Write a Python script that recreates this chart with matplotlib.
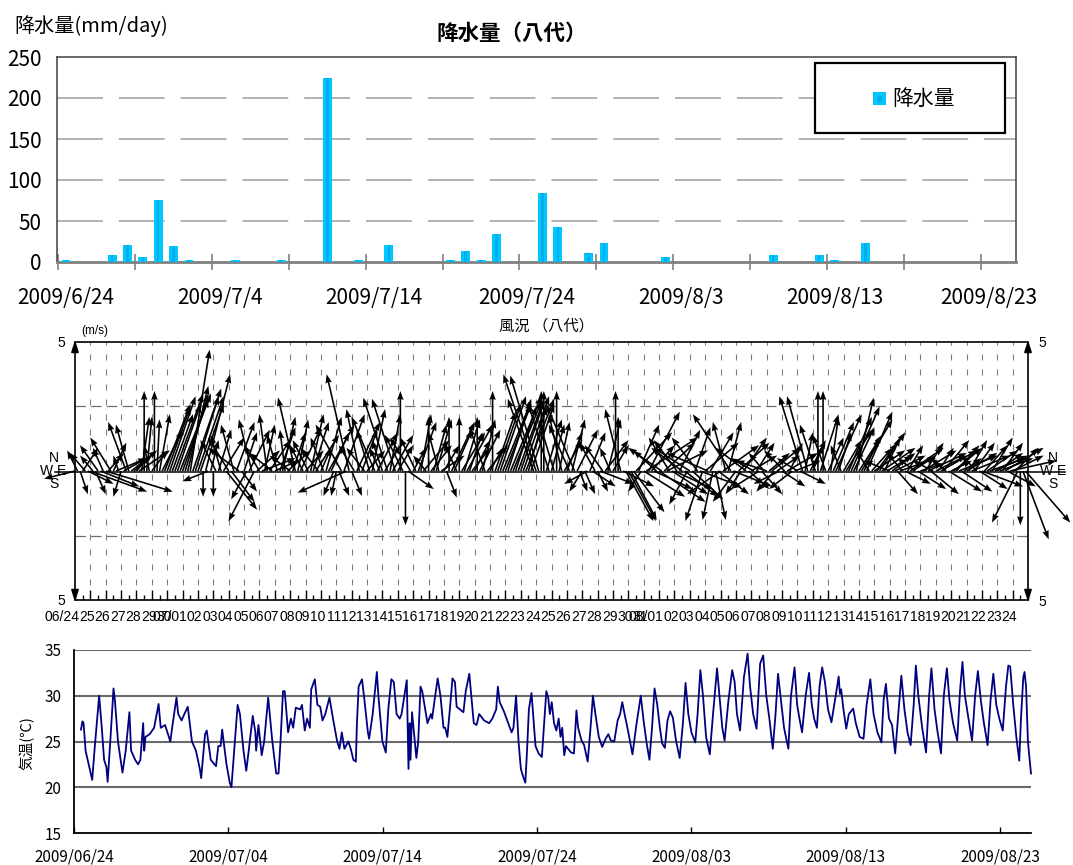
import numpy as np
import pandas as pd
import matplotlib
matplotlib.use("Agg")
import matplotlib.pyplot as plt
from matplotlib.patches import Rectangle
from matplotlib.lines import Line2D

plt.rcParams['font.family'] = ['Noto Sans CJK JP', 'DejaVu Sans']
plt.rcParams['lines.scale_dashes'] = False

# ---------------------------------------------------------------- data
# daily precipitation, day index counted from 2009/6/24
rain_days = [0, 3, 4, 5, 6, 7, 8, 11, 14, 17, 19, 21, 25, 26, 27, 28,
             31, 32, 34, 35, 39, 46, 49, 50, 52]
rain_mm = [3, 8, 21, 6, 76, 19, 3, 3, 3, 225, 3, 21, 3, 13, 3, 34,
           84, 43, 11, 23, 6, 8, 8, 3, 23]
rain_ticks = [0, 10, 20, 30, 40, 50, 60]
rain_ticklabels = ['2009/6/24', '2009/7/4', '2009/7/14', '2009/7/24',
                   '2009/8/3', '2009/8/13', '2009/8/23']

# wind, six samples per day (00,04,08,12,16,20 h); u = east, v = north (m/s)
wind_hours = [0, 4, 8, 12, 16, 20]
wind_u = [
    [-1.2, -0.4, 0.3, 0.6, -0.6, 1.0],
    [2.2, -0.5, 0.4, -0.7, 1.5, -0.4],
    [2.6, 0.6, -0.8, 0.5, 1.2, -0.2],
    [-0.3, 0.9, -0.7, -0.5, 1.0, 0.7],
    [0.5, 1.2, 0.3, 0.0, 0.2, -0.2],
    [0.6, 0.0, 0.1, 0.4, 0.8, 1.0],
    [0.9, 1.0, 0.8, 1.1, 0.9, 1.2],
    [1.0, 0.9, 0.8, 0.75, 1.1, 0.9],
    [1.0, 0.9, 0.0, 0.95, -1.0, 0.3],
    [0.0, -0.6, 0.5, -0.4, 0.8, 1.2],
    [-0.8, 0.9, -0.5, 0.7, -1.2, 0.6],
    [0.5, -0.6, 0.8, -0.5, -1.0, 0.9],
    [-0.6, 1.3, 0.4, -0.3, 0.8, -0.9],
    [0.9, -0.4, 0.6, 0.5, -0.2, 0.9],
    [-0.8, 0.5, -0.67, 0.4, 0.8, -0.5],
    [0.7, -0.6, 0.5, 0.6, 0.9, -0.7],
    [0.4, -0.5, 0.6, 1.0, 0.7, -0.4],
    [-0.2, 0.4, -1.0, 0.8, -1.9, -0.87],
    [0.4, -0.6, 0.9, -0.5, 0.6, -0.7],
    [0.7, -0.5, 0.5, -0.9, 0.8, -0.4],
    [-0.4, 0.6, -0.94, 0.4, 0.8, -0.9],
    [0.6, 0.0, -0.7, 0.0, 1.0, -0.8],
    [0.5, -0.6, 0.7, 0.4, 1.0, -0.5],
    [0.0, 0.8, 0.5, 0.6, -0.4, 0.9],
    [0.6, 0.4, 0.0, 0.9, 0.7, -0.5],
    [0.0, 0.9, 0.6, 1.0, 0.5, 0.7],
    [0.6, 0.0, 0.8, 0.5, -0.6, 0.8],
    [0.5, 0.0, 0.8, 0.9, 1.0, 1.1],
    [1.0, 0.9, 1.2, 1.1, 0.8, 1.0],
    [0.9, 1.0, 1.1, 0.7, 0.9, -1.0],
    [-1.27, -1.1, 0.0, 0.0, 0.6, -0.8],
    [0.5, -0.6, 0.0, 0.4, -0.5, 0.7],
    [0.6, -0.8, 0.5, -1.1, 0.8, 0.3],
    [-0.5, 0.4, -0.9, 0.6, 0.9, -0.6],
    [0.4, 1.3, -0.7, 0.9, 0.5, -0.4],
    [0.6, 0.0, 0.0, -0.6, 1.2, 1.07],
    [1.07, 1.0, 1.2, 1.4, 0.8, -0.5],
    [1.6, 2.0, 1.2, 0.9, 1.5, -0.9],
    [1.8, -1.3, 1.2, 1.6, -0.8, 1.4],
    [1.5, -0.9, 0.8, -1.2, 1.3, -0.7],
    [-1.4, 1.2, 0.6, -1.0, 1.6, -0.67],
    [1.3, -1.6, 0.9, -0.4, 0.4, 1.2],
    [-1.3, 1.4, -0.5, 0.5, -1.47, 1.5],
    [-0.9, 1.2, -0.6, 0.9, -1.2, 0.8],
    [1.0, -0.9, 0.7, -1.1, 0.8, -0.6],
    [-1.2, 0.8, 1.1, -0.7, 0.9, -1.0],
    [0.9, -0.8, 1.2, 0.5, -0.9, 1.0],
    [-0.8, 1.0, -0.9, 0.3, -0.8, 0.6],
    [0.4, -0.6, 0.0, 0.7, 0.0, -0.5],
    [0.6, 0.3, 0.8, 1.0, 0.5, -0.4],
    [0.7, 1.0, 0.9, 1.1, 0.8, 0.67],
    [0.9, 1.2, 0.6, 1.0, -0.5, 0.8],
    [1.2, 0.8, 1.0, 1.3, 0.6, 1.0],
    [-1.0, 0.9, 1.2, 0.8, 1.4, -0.6],
    [1.0, 0.6, 1.3, 0.9, -0.7, 1.1],
    [0.9, 1.3, 0.7, 1.5, 1.1, -0.8],
    [1.2, 0.6, 1.4, 1.0, -0.6, 1.3],
    [0.8, 1.1, 0.9, 1.5, 1.2, 0.7],
    [1.2, 0.7, 1.5, 0.8, -0.6, 1.1],
    [1.6, 0.9, 1.2, 1.4, 0.8, 1.3],
    [1.0, 1.3, 0.8, 1.5, 1.1, 1.8],
    [1.2, 0.9, -1.0, 0.0, 1.0, 1.74],
]
wind_v = [
    [-0.3, 0.8, -0.9, 0.9, 0.7, -0.5],
    [-0.8, 0.6, -0.9, 1.0, -0.6, 0.9],
    [-0.8, 0.7, 1.3, 1.1, 0.5, 0.6],
    [-1.0, 0.5, 1.9, 1.8, 0.8, 0.6],
    [0.6, 0.8, 2.1, 3.1, 2.1, 1.0],
    [0.8, 3.1, 2.0, 2.2, 1.6, 2.6],
    [2.5, 2.9, 2.2, 3.0, 2.6, 3.0],
    [2.8, 3.0, 3.3, 4.7, 3.2, 2.9],
    [2.9, 2.6, -1.0, 3.75, -0.4, 1.2],
    [-1.0, 1.2, 1.6, 1.4, 1.3, -1.5],
    [1.3, -1.2, 1.8, 1.9, 0.9, -0.8],
    [1.5, -1.1, 1.6, 2.0, -1.95, 0.8],
    [1.0, 0.5, 1.8, 2.2, 1.2, 0.7],
    [0.4, 1.4, 1.7, 2.1, 1.6, 0.8],
    [0.6, 1.5, 2.85, 2.0, 1.7, 1.0],
    [0.8, 1.2, 2.2, 1.9, 1.4, 0.9],
    [0.9, 1.3, 2.1, 1.8, 1.5, -0.97],
    [-0.97, -0.97, 1.8, 2.2, -0.84, 3.75],
    [-0.97, 1.0, 1.9, 2.4, 1.6, 0.9],
    [0.8, 1.6, 2.4, 2.1, 1.5, 0.9],
    [1.2, 1.0, 2.84, 2.2, 1.4, 2.8],
    [1.0, 3.1, 1.4, -2.1, -0.7, 1.3],
    [0.9, 1.3, 1.9, 2.2, 1.2, 0.6],
    [2.1, 1.0, 1.8, 2.0, 1.5, 0.6],
    [1.0, -1.03, 2.1, 1.9, 1.6, 1.1],
    [2.1, 1.5, 2.0, 1.8, 1.5, 0.9],
    [1.2, 2.1, 1.6, 2.0, 1.7, 1.0],
    [0.9, 3.1, 2.3, 2.6, 2.9, 2.7],
    [2.6, 2.8, 2.9, 2.7, 2.5, 2.8],
    [2.7, 2.9, 2.8, 2.5, 2.6, 2.8],
    [3.75, 3.7, 3.1, 3.1, 2.0, 2.6],
    [1.8, 2.0, 3.1, 1.9, 2.2, 1.2],
    [1.5, 1.8, 2.0, 2.6, 1.6, -0.8],
    [-0.8, -0.9, -0.5, 1.5, -0.6, 1.1],
    [-0.8, -0.5, 1.0, 1.2, 2.0, 0.9],
    [1.0, 3.1, 2.1, 2.4, -0.6, -1.94],
    [-1.94, -1.9, -1.6, 1.5, 1.8, -0.8],
    [-1.0, 1.3, 2.3, 1.0, -0.7, 0.8],
    [-1.2, 0.9, 1.1, 0.8, 1.3, -0.9],
    [-0.7, 1.2, 1.6, 0.9, -1.0, -1.3],
    [0.9, -1.1, 1.7, 1.3, -0.6, -1.94],
    [1.1, 0.7, 1.5, -1.9, -1.9, -0.9],
    [-0.9, 1.0, 1.9, 1.9, 2.2, -0.6],
    [-1.2, 1.1, -0.9, 1.3, 0.9, -0.7],
    [0.6, 0.5, 1.1, -0.7, -0.9, 0.7],
    [0.4, 0.7, 0.9, -0.8, 0.6, -0.5],
    [-0.6, 0.8, 0.7, 1.1, -0.7, 0.4],
    [0.5, -0.5, 2.9, 1.5, 2.9, 1.2],
    [1.0, 1.8, 3.1, 2.2, 3.1, 1.4],
    [1.3, 2.1, 1.9, 2.2, 1.5, 1.0],
    [1.2, 1.6, 2.1, 2.5, 1.7, 2.84],
    [1.4, 2.0, 1.3, 2.3, 0.8, 0.9],
    [0.8, 1.1, 1.5, 0.9, 1.3, 0.6],
    [0.4, 0.7, 0.6, -0.9, 0.5, 0.7],
    [-0.5, 1.0, 0.9, 0.6, 0.5, -0.7],
    [0.3, 0.8, 1.1, 0.7, -0.9, 0.4],
    [0.6, 0.9, 0.8, 1.2, 0.5, -0.8],
    [0.4, 0.9, 1.0, 0.6, -0.8, 0.5],
    [0.7, 1.2, 0.6, 1.1, 0.6, -0.7],
    [-0.6, 1.0, 0.8, 0.5, 1.3, 0.6],
    [0.7, 0.5, 1.1, 0.9, -0.6, 0.4],
    [0.6, 0.9, -2.0, -2.1, -2.65, -2.0],
]

# air temperature: time (days from 2009/6/24 00:00) and value (deg C)
temp_day = [
    0.45, 0.55, 0.62, 0.75, 0.95,
    1.18, 1.35, 1.5, 1.63, 1.8, 1.95,
    2.1, 2.18, 2.35, 2.56, 2.65, 2.85,
    3.14, 3.35, 3.59, 3.7, 3.96,
    4.15, 4.3, 4.48, 4.55, 4.63, 4.9,
    5.19, 5.48, 5.62, 5.9,
    6.24, 6.4, 6.64, 6.75, 6.97,
    7.15, 7.37, 7.64, 7.9,
    8.15, 8.24, 8.49, 8.6, 8.86,
    9.2, 9.35, 9.5, 9.6, 9.87,
    10.09, 10.2, 10.6, 10.75, 10.98,
    11.16, 11.32, 11.58, 11.75, 11.8, 11.95,
    12.16, 12.32, 12.58, 12.85,
    13.1, 13.25, 13.38, 13.54, 13.65, 13.87,
    14.05, 14.2, 14.37, 14.65, 14.77, 14.95,
    15.1, 15.28, 15.37, 15.6, 15.77, 15.95,
    16.1, 16.28, 16.55, 16.8,
    17.05, 17.2, 17.35, 17.52, 17.77, 17.93,
    18.1, 18.26, 18.33, 18.44, 18.66, 18.85,
    19.04, 19.12, 19.35, 19.62, 19.72, 19.98,
    20.2, 20.36, 20.56, 20.72, 20.9,
    21.1, 21.22, 21.56, 21.67, 21.75, 21.8, 21.9,
    22.18, 22.3, 22.45, 22.56, 22.8, 22.9,
    23.12, 23.2, 23.4, 23.56, 23.74, 23.94,
    24.05, 24.19, 24.35, 24.52, 24.68, 24.79,
    25.01, 25.23, 25.38, 25.61, 25.9,
    26.08, 26.25, 26.57, 26.9,
    27.1, 27.35, 27.46, 27.58, 27.85,
    28.13, 28.35, 28.47, 28.64, 28.8, 28.95,
    29.13, 29.24, 29.35, 29.47, 29.64, 29.9,
    30.1, 30.31, 30.6, 30.72, 30.83, 30.95,
    31.1, 31.25, 31.4, 31.52, 31.63, 31.76, 31.87,
    32.2, 32.39, 32.55, 32.66, 32.88,
    33.05, 33.28, 33.45, 33.62, 33.78,
    34.0, 34.22, 34.44, 34.62, 34.78,
    35.0, 35.22, 35.38, 35.52, 35.67, 35.89,
    36.18, 36.45, 36.72, 36.9,
    37.1, 37.28, 37.45, 37.61, 37.78, 37.95,
    38.1, 38.28, 38.45, 38.62, 38.8,
    39.0, 39.24, 39.45, 39.62, 39.8,
    40.0, 40.25, 40.4, 40.58, 40.75, 40.95,
    41.19, 41.4, 41.66, 41.82,
    42.0, 42.15, 42.4, 42.64, 42.8, 42.95,
    43.15, 43.4, 43.64, 43.8,
    44.0, 44.22, 44.45, 44.65, 44.85,
    45.05, 45.27, 45.45, 45.61, 45.8,
    46.0, 46.28, 46.45, 46.68, 46.85,
    47.0, 47.17, 47.4, 47.62, 47.8, 47.95,
    48.13, 48.3, 48.47, 48.65, 48.85,
    49.07, 49.3, 49.54, 49.62, 49.7, 49.85,
    50.03, 50.2, 50.48, 50.65, 50.9,
    51.15, 51.35, 51.59, 51.8,
    52.05, 52.31, 52.45, 52.6, 52.8,
    53.0, 53.2, 53.4, 53.6, 53.8,
    54.0, 54.2, 54.4, 54.54, 54.7, 54.95,
    55.2, 55.4, 55.55, 55.75, 55.95,
    56.17, 56.35, 56.55, 56.72, 56.95,
    57.22, 57.4, 57.56, 57.72, 57.95,
    58.18, 58.38, 58.56, 58.75, 58.95,
    59.19, 59.38, 59.56, 59.75, 59.95,
    60.17, 60.38, 60.53, 60.65, 60.85,
    61.05, 61.24, 61.35, 61.5, 61.58, 61.68, 61.8, 62.0,
]
temp_c = [
    26.3, 27.2, 27.0, 24.0, 22.5,
    20.8, 24.5, 27.5, 30.0, 26.5, 23.0,
    22.2, 20.6, 25.0, 30.8, 29.5, 25.0,
    21.6, 24.0, 28.2, 24.0, 23.0,
    22.5, 23.0, 27.0, 24.0, 25.5, 25.8,
    26.5, 29.1, 26.5, 26.8,
    25.0, 27.0, 29.8, 28.0, 27.3,
    28.0, 28.8, 25.0, 24.0,
    22.0, 21.0, 25.8, 26.2, 23.0,
    22.3, 24.5, 24.5, 26.3, 22.6,
    20.5, 20.0, 29.0, 28.0, 24.0,
    21.8, 24.0, 27.8, 26.0, 24.0, 26.8,
    23.5, 25.0, 29.8, 25.0,
    21.5, 21.5, 25.0, 30.5, 30.5, 26.0,
    27.5, 26.5, 28.7, 28.5, 29.0, 26.2,
    27.5, 26.5, 30.7, 31.8, 29.0, 28.8,
    27.3, 28.0, 29.8, 27.3,
    25.0, 24.2, 26.0, 24.2, 25.0, 24.2,
    23.0, 22.8, 27.0, 31.0, 31.8, 29.0,
    26.0, 25.3, 28.0, 32.6, 30.0, 25.0,
    23.8, 28.5, 31.8, 31.5, 28.0,
    27.5, 28.0, 31.7, 22.0, 27.0, 23.0, 28.2,
    23.2, 25.0, 31.0, 30.5, 28.0, 27.0,
    28.0, 27.5, 30.0, 31.9, 30.0, 26.5,
    26.5, 25.5, 28.5, 31.9, 31.5, 28.8,
    28.5, 28.2, 30.5, 32.4, 27.0,
    26.8, 28.0, 27.3, 27.0,
    27.5, 28.5, 31.0, 29.3, 28.3,
    27.0, 26.0, 26.5, 30.0, 25.0, 22.0,
    21.0, 20.5, 24.0, 28.5, 30.3, 24.5,
    23.7, 23.3, 30.5, 29.8, 28.0, 29.3,
    27.0, 26.2, 27.5, 25.5, 26.5, 23.5, 24.5,
    23.8, 23.7, 28.4, 26.5, 25.1,
    24.6, 22.8, 26.2, 30.0, 28.0,
    25.5, 24.4, 25.3, 25.8, 25.1,
    25.0, 27.3, 28.0, 29.3, 28.0, 26.2,
    23.6, 27.0, 30.0, 27.3,
    24.8, 23.0, 26.5, 30.8, 29.1, 26.6,
    24.8, 24.3, 27.3, 28.3, 27.6,
    25.1, 23.2, 27.0, 31.4, 28.0,
    26.0, 24.9, 28.0, 32.8, 30.0, 25.5,
    23.6, 28.0, 33.0, 30.0,
    26.5, 25.1, 29.5, 32.8, 31.5, 28.0,
    26.2, 32.0, 34.6, 31.0,
    28.0, 26.4, 33.5, 34.4, 30.0,
    27.5, 24.2, 28.0, 32.4, 29.5,
    26.5, 24.2, 30.0, 33.1, 29.0,
    27.5, 26.0, 30.0, 32.5, 29.0, 27.5,
    26.5, 31.0, 33.1, 31.5, 28.5,
    27.1, 29.5, 32.1, 30.2, 30.7, 28.5,
    26.4, 28.0, 28.6, 27.0, 25.5,
    25.3, 29.0, 31.8, 28.0,
    26.0, 24.9, 29.5, 31.3, 27.5,
    26.8, 23.7, 28.0, 32.2, 28.5,
    26.0, 24.6, 29.0, 33.3, 30.0, 26.5,
    23.8, 30.0, 33.0, 28.5, 26.0,
    23.7, 30.0, 33.0, 29.5, 27.0,
    25.1, 30.5, 33.7, 30.0, 27.5,
    25.1, 30.0, 32.7, 29.5, 27.0,
    24.6, 29.5, 32.4, 29.0, 27.5,
    26.2, 31.0, 33.3, 33.2, 29.0,
    25.5, 22.9, 27.5, 32.0, 32.6, 31.0, 25.0, 21.5,
]
temp_ticks = [0, 10, 20, 30, 40, 50, 60]
temp_ticklabels = ['2009/06/24', '2009/07/04', '2009/07/14', '2009/07/24',
                   '2009/08/03', '2009/08/13', '2009/08/23']

# ---------------------------------------------------------------- figure
W, H = 1073, 865
fig = plt.figure(figsize=(W / 100, H / 100), dpi=100)


def px_box(l, t, r, b):
    return [l / W, 1 - b / H, (r - l) / W, (b - t) / H]


def ftext(x, y, s, **kw):
    return fig.text(x / W, 1 - y / H, s, **kw)


def fline(xs, ys, **kw):
    fig.add_artist(Line2D([x / W for x in xs], [1 - y / H for y in ys],
                          transform=fig.transFigure, **kw))


def frect(x0, y0, x1, y1, **kw):
    fig.add_artist(Rectangle((x0 / W, 1 - y1 / H), (x1 - x0) / W, (y1 - y0) / H,
                             transform=fig.transFigure, **kw))


# ======================= precipitation ===============================
ax1 = fig.add_axes(px_box(57, 57, 1016, 262))
ax1.bar(rain_days, rain_mm, width=0.58, color='#00C8FF', zorder=3)
ax1.bar(rain_days, rain_mm, width=0.16, color='#00AEEF', zorder=4)
ax1.set_xlim(-0.585, 61.8)
ax1.set_ylim(0, 250)
for y in (50, 100, 150, 200):
    ax1.axhline(y, color='#A6A6A6', lw=1.2, dashes=(33, 11.5), zorder=1)
ax1.set_yticks(range(0, 251, 50))
ax1.tick_params(axis='y', length=0, pad=11, labelsize=15)
ax1.set_xticks(rain_ticks)
ax1.set_xticklabels(rain_ticklabels)
ax1.set_xticks([-0.5 + 5 * k for k in range(13)], minor=True)
ax1.tick_params(axis='x', which='major', length=0, pad=18, labelsize=15)
ax1.tick_params(axis='x', which='minor', direction='inout', length=12,
                width=1.2, color='#808080')
for s in ('top', 'right', 'left'):
    ax1.spines[s].set_color('#404040')
    ax1.spines[s].set_linewidth(1.1)
ax1.spines['bottom'].set_color('#808080')
ax1.spines['bottom'].set_linewidth(2.0)

ftext(512, 33, '降水量（八代）', fontsize=15.5, fontweight='bold',
      ha='center', va='center')
ftext(14, 26, '降水量(mm/day)', fontsize=14.5, ha='left', va='center')

# legend box
frect(815, 63, 1005, 133, facecolor='white', edgecolor='black', lw=1.6, zorder=10)
frect(873, 92, 886, 105, facecolor='#00C8FF', edgecolor='none', zorder=11)
frect(877, 95.5, 882, 101.5, facecolor='#00AEEF', edgecolor='none', zorder=12)
ftext(892, 99, '降水量', fontsize=15, ha='left', va='center', zorder=12)

# ======================= wind ========================================
ax2 = fig.add_axes(px_box(75, 342, 1028, 600))
ndays = len(wind_u)
ax2.set_xlim(0, ndays)
ax2.set_ylim(-5, 5)

px_per_day = (1028 - 75) / ndays
px_per_ms = (600 - 342) / 10.0
k = px_per_ms / px_per_day          # days of time axis per m/s of east wind

t = np.array([[d + h / 24.0 for h in wind_hours] for d in range(ndays)]).ravel()
u = np.array(wind_u, dtype=float).ravel()
v = np.array(wind_v, dtype=float).ravel()
q = ax2.quiver(t, np.zeros_like(t), u * k, v, angles='xy', scale_units='xy',
               scale=1, width=0.0017, headwidth=4.0, headlength=5.5,
               headaxislength=5.0, color='black', zorder=5)
q.set_clip_on(False)

for d in range(1, ndays):
    ax2.axvline(d, color='#808080', lw=0.8, dashes=(4.3, 6.5), zorder=1)
for y in (2.5, -2.5):
    ax2.axhline(y, color='#707070', lw=0.9, dashes=(7.5, 3.8), zorder=1)

ax2.set_xticks(range(0, ndays + 1))
ax2.set_xticks([d + 0.5 for d in range(ndays)], minor=True)
ax2.tick_params(axis='x', which='major', direction='in', length=7, width=1,
                labelbottom=False)
ax2.tick_params(axis='x', which='minor', direction='in', length=3.5, width=1)
ax2.set_yticks([])
for s in ('left', 'right'):
    ax2.spines[s].set_visible(False)
for s in ('top', 'bottom'):
    ax2.spines[s].set_linewidth(1.2)

# day labels under the wind axis
dates = pd.date_range('2009-06-24', periods=ndays)
for d, dt in enumerate(dates):
    lab = dt.strftime('%m/%d') if (d == 0 or dt.day == 1) else dt.strftime('%d')
    ftext(75 + d * px_per_day + 4.5, 617, lab, fontsize=10, ha='right',
          va='center', family='Liberation Sans')

# vertical scale axes with double arrows
for xa in (0, 1):
    ax2.annotate('', xy=(xa, 1.008), xytext=(xa, -0.008), xycoords='axes fraction',
                 arrowprops=dict(arrowstyle='<|-|>,head_length=0.7,head_width=0.22',
                                 color='black', lw=1.2, shrinkA=0, shrinkB=0),
                 annotation_clip=False)

# zero line with compass marks at both ends
fline([55, 1065], [471.5, 471.5], color='black', lw=1.1, zorder=4)
for cx in (54, 1053):
    ftext(cx, 458, 'N', fontsize=10, ha='center', va='center', family='Liberation Sans')
    ftext(cx - 7, 471, 'W', fontsize=10, ha='center', va='center', family='Liberation Sans')
    ftext(cx + 8, 471, 'E', fontsize=10, ha='center', va='center', family='Liberation Sans')
    ftext(cx, 484, 'S', fontsize=10, ha='center', va='center', family='Liberation Sans')

for x, y in ((61, 343), (61, 601), (1042, 343), (1042, 602)):
    ftext(x, y, '5', fontsize=10, ha='center', va='center', family='Liberation Sans')
ftext(81, 331, '(m/s)', fontsize=8.5, ha='left', va='center', family='Liberation Sans')
ftext(546, 326, '風況 （八代）', fontsize=11, ha='center', va='center')

# ======================= temperature =================================
ax3 = fig.add_axes(px_box(74, 650, 1031, 833))
ax3.set_xlim(0, 62)
ax3.set_ylim(15, 35)
for y in (20, 25, 30, 35):
    ax3.axhline(y, color='#6A6A6A', lw=1.5, zorder=1)
ax3.plot(temp_day, temp_c, color='#000080', lw=1.3, zorder=3, clip_on=False)
ax3.set_yticks(range(15, 36, 5))
ax3.tick_params(axis='y', length=0, pad=9, labelsize=11)
ax3.set_xticks(temp_ticks)
ax3.set_xticklabels(temp_ticklabels)
ax3.tick_params(axis='x', direction='in', length=4, width=1, pad=11, labelsize=11)
ax3.spines['top'].set_visible(False)
ax3.spines['right'].set_visible(False)
ax3.spines['left'].set_linewidth(1.3)
ax3.spines['bottom'].set_linewidth(1.3)
ftext(27, 743, '気温(℃)', fontsize=10.5, rotation=90, ha='center', va='center')

fig.savefig('out.png', dpi=100)
